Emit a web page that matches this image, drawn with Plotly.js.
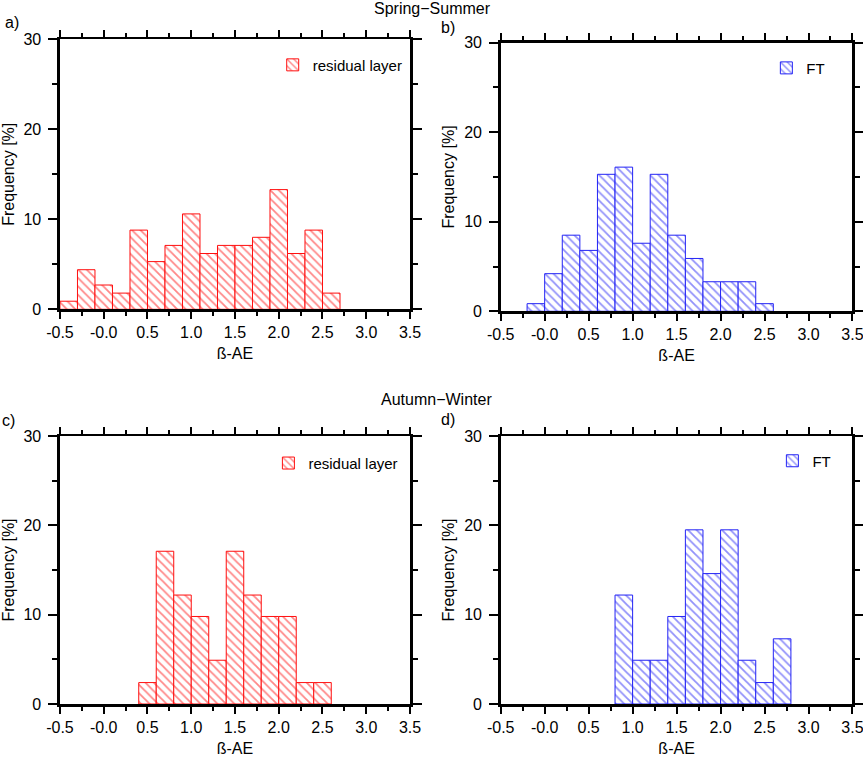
<!DOCTYPE html>
<html>
<head>
<meta charset="utf-8">
<script src="https://cdn.plot.ly/plotly-3.0.1.min.js"></script>
<style>
  html, body { margin: 0; padding: 0; background: #fff; }
  #chart { width: 863px; height: 757px; }
</style>
</head>
<body>
<div id="chart"></div>
<script>
// bin centres (bin width 0.2) and frequencies [%]
const binsA = [-0.4, -0.2, 0.0, 0.2, 0.4, 0.6, 0.8, 1.0, 1.2, 1.4, 1.6, 1.8, 2.0, 2.2, 2.4, 2.6];
const freqA = [0.9, 4.4, 2.7, 1.8, 8.8, 5.3, 7.1, 10.6, 6.2, 7.1, 7.1, 8.0, 13.3, 6.2, 8.8, 1.8];

const binsB = [-0.1, 0.1, 0.3, 0.5, 0.7, 0.9, 1.1, 1.3, 1.5, 1.7, 1.9, 2.1, 2.3, 2.5];
const freqB = [0.85, 4.2, 8.5, 6.8, 15.3, 16.1, 7.6, 15.3, 8.5, 5.9, 3.3, 3.3, 3.3, 0.85];

const binsC = [0.5, 0.7, 0.9, 1.1, 1.3, 1.5, 1.7, 1.9, 2.1, 2.3, 2.5];
const freqC = [2.4, 17.1, 12.2, 9.8, 4.9, 17.1, 12.2, 9.8, 9.8, 2.4, 2.4];

const binsD = [0.9, 1.1, 1.3, 1.5, 1.7, 1.9, 2.1, 2.3, 2.5, 2.7];
const freqD = [12.2, 4.9, 4.9, 9.8, 19.5, 14.6, 19.5, 4.9, 2.4, 7.3];

const seriesNames = ["residual layer", "FT", "residual layer", "FT"];
const panelLabels = ["a)", "b)", "c)", "d)"];
const seasonTitles = ["Spring\u2212Summer", "Autumn\u2212Winter"];

const xTickVals = [-0.5, 0.0, 0.5, 1.0, 1.5, 2.0, 2.5, 3.0, 3.5];
const xTickText = ["-0.5", "-0.0", "0.5", "1.0", "1.5", "2.0", "2.5", "3.0", "3.5"];
const xMinorVals = [-0.25, 0.25, 0.75, 1.25, 1.75, 2.25, 2.75, 3.25];
const yTickVals = [0, 10, 20, 30];
const yMinorVals = [5, 15, 25];

const RED = "rgb(255,15,15)";
const BLUE = "rgb(35,35,245)";
const FONT = "Liberation Sans, Arial, sans-serif";

// plot-area domains in paper units [a, b, c, d]
const xDomains = [[0.0695, 0.4751], [0.5802, 0.9878], [0.0695, 0.4751], [0.5802, 0.9878]];
const yDomains = [[0.5914, 0.9481], [0.5888, 0.9436], [0.0700, 0.4240], [0.0700, 0.4240]];

// axis id suffix: "" for the first axis, then 2, 3, ...
const sfx = (n) => (n === 1 ? "" : String(n));

const makeBar = (x, y, color, name, n) => ({
    type: "bar",
    x: x,
    y: y,
    width: 0.2,
    name: name,
    xaxis: "x" + sfx(n),
    yaxis: "y" + sfx(n),
    legend: "legend" + sfx(n),
    showlegend: true,
    marker: {
        color: "white",
        line: { color: color, width: 1 },
        pattern: { shape: "\\", fgcolor: color, bgcolor: "white", size: 6, solidity: 0.3, fillmode: "overlay" },
    },
    hoverinfo: "x+y",
});

const data = [
    makeBar(binsA, freqA, RED, seriesNames[0], 1),
    makeBar(binsB, freqB, BLUE, seriesNames[1], 2),
    makeBar(binsC, freqC, RED, seriesNames[2], 3),
    makeBar(binsD, freqD, BLUE, seriesNames[3], 4),
];

const tickFont = { family: FONT, size: 16, color: "black" };
const titleFont = { family: FONT, size: 16, color: "black" };

const layout = {
    width: 863,
    height: 757,
    margin: { l: 0, r: 0, t: 0, b: 0 },
    paper_bgcolor: "white",
    plot_bgcolor: "white",
    bargap: 0,
    font: { family: FONT, color: "black" },
    annotations: [],
};

for (let n = 1; n <= 4; n++) {
    const xs = "x" + sfx(n);
    const ys = "y" + sfx(n);
    layout["xaxis" + sfx(n)] = {
        domain: xDomains[n - 1],
        anchor: ys,
        range: [-0.5, 3.5],
        showline: true,
        mirror: "ticks",
        linewidth: 2.5,
        linecolor: "black",
        showgrid: false,
        zeroline: false,
        ticks: "outside",
        ticklen: 7,
        tickwidth: 2,
        tickcolor: "black",
        tickmode: "array",
        tickvals: xTickVals,
        ticktext: xTickText,
        ticklabeloverflow: "allow",
        minor: { tickmode: "array", tickvals: xMinorVals, ticks: "outside", ticklen: 4, tickwidth: 2, tickcolor: "black", showgrid: false },
        tickfont: tickFont,
        title: { text: "\u00DF-AE", font: titleFont, standoff: 8 },
    };
    layout["yaxis" + sfx(n)] = {
        domain: yDomains[n - 1],
        anchor: xs,
        range: [0, 30],
        showline: true,
        mirror: "ticks",
        linewidth: 2.5,
        linecolor: "black",
        showgrid: false,
        zeroline: false,
        ticks: "outside",
        ticklen: 9,
        tickwidth: 2,
        tickcolor: "black",
        tickmode: "array",
        tickvals: yTickVals,
        ticklabelstandoff: 4,
        ticklabeloverflow: "allow",
        minor: { tickmode: "array", tickvals: yMinorVals, ticks: "outside", ticklen: 5, tickwidth: 2, tickcolor: "black", showgrid: false },
        tickfont: tickFont,
        title: { text: "Frequency [%]", font: titleFont, standoff: 6 },
    };
}

// legends inside the top right of each panel
const legendPos = [[0.316, 0.914], [0.888, 0.910], [0.311, 0.388], [0.895, 0.391]];
legendPos.forEach((p, i) => {
    layout["legend" + sfx(i + 1)] = {
        x: p[0],
        y: p[1],
        xanchor: "left",
        yanchor: "middle",
        bgcolor: "rgba(0,0,0,0)",
        borderwidth: 0,
        font: { family: FONT, size: 15, color: "black" },
    };
});

// season titles and panel letters (pixel positions converted to paper units)
const titlePos = [[433, 8], [437, 399]];
titlePos.forEach((p, i) => {
    layout.annotations.push({
        text: seasonTitles[i], x: p[0] / 863, y: 1 - p[1] / 757, xref: "paper", yref: "paper",
        xanchor: "center", yanchor: "middle", showarrow: false, font: { family: FONT, size: 16 },
    });
});
const labelPos = [[12, 23], [448, 27], [8, 420], [448, 419]];
labelPos.forEach((p, i) => {
    layout.annotations.push({
        text: panelLabels[i], x: p[0] / 863, y: 1 - p[1] / 757, xref: "paper", yref: "paper",
        xanchor: "center", yanchor: "middle", showarrow: false, font: { family: FONT, size: 16 },
    });
});

Plotly.newPlot("chart", data, layout, { displayModeBar: false, staticPlot: true });
</script>
</body>
</html>
